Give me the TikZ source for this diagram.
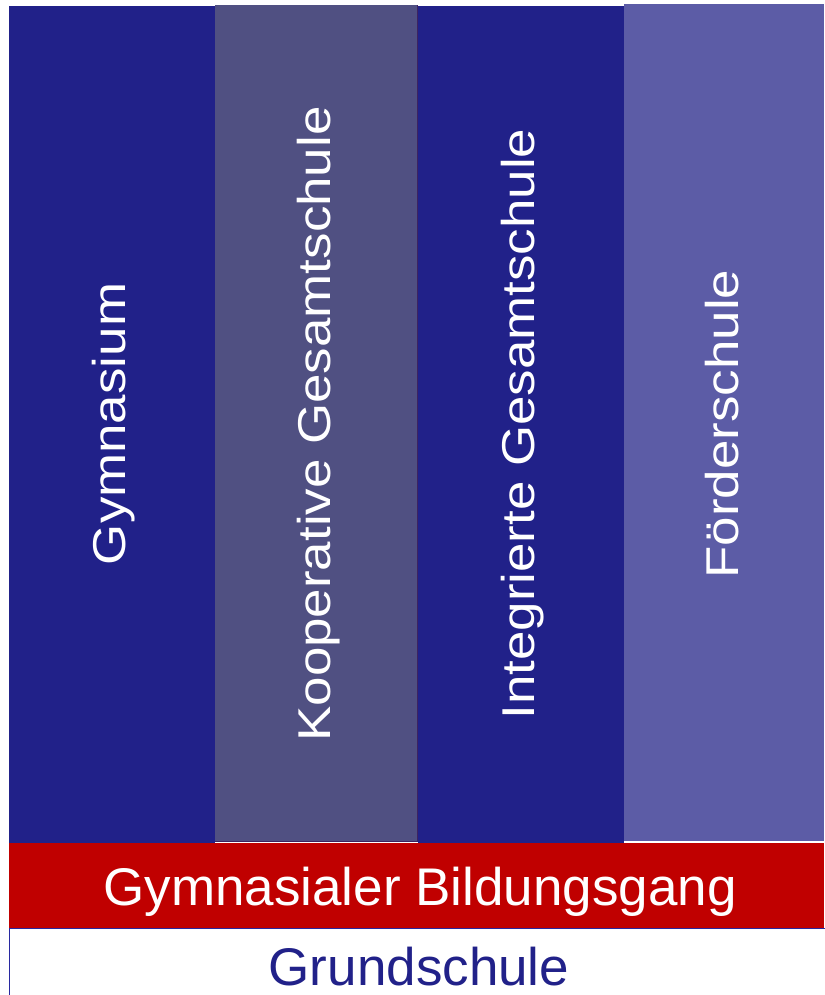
\documentclass[tikz,border=0pt]{standalone}
\usepackage{fontspec}
\usepackage{graphicx}
\setmainfont{Liberation Sans}
\definecolor{navy}{RGB}{33,33,137}
\definecolor{koop}{RGB}{80,80,130}
\definecolor{koopedge}{RGB}{62,36,96}
\definecolor{foerder}{RGB}{92,92,166}
\definecolor{redband}{RGB}{192,0,0}
\definecolor{grundedge}{RGB}{40,40,160}
\definecolor{grundtext}{RGB}{33,33,137}
\tikzset{
  coltext/.style={rotate=90, anchor=base, text=white, inner sep=0pt,
    font=\fontsize{46}{50}\selectfont},
  bandtext/.style={anchor=base, inner sep=0pt, font=\fontsize{53}{60}\selectfont}
}
\newcommand{\stretchtxt}[1]{\scalebox{1.15}[1]{#1}}
\begin{document}
\begin{tikzpicture}[x=1pt,y=-1pt]
\useasboundingbox (0,0) rectangle (824,995);
% columns
\fill[navy] (9,6) rectangle (215,843);
\fill[koop] (215,5) rectangle (418,842);
\draw[koopedge, line width=1pt] (215,841.5) -- (417.5,841.5) -- (417.5,5);
\fill[navy] (418,6) rectangle (624,843);
\fill[foerder] (624,4) rectangle (824,841);
% bands
\fill[redband] (9,843) rectangle (824,928);
\draw[grundedge, fill=white, line width=1.5pt] (9.5,928.5) rectangle (830,1000);
% texts
\node[coltext] (gym) at (125,424) {\stretchtxt{Gymnasium}};
\node[coltext] (kgs) at (330,424) {\stretchtxt{Kooperative Gesamtschule}};
\node[coltext] (igs) at (534,424) {\stretchtxt{Integrierte Gesamtschule}};
\node[coltext] (fs) at (738,424) {\stretchtxt{Förderschule}};
\node[bandtext, text=white] (gbg) at (420,905) {Gymnasialer Bildungsgang};
\node[bandtext, text=grundtext] (gs) at (419,985) {Grundschule};
\end{tikzpicture}
\end{document}
